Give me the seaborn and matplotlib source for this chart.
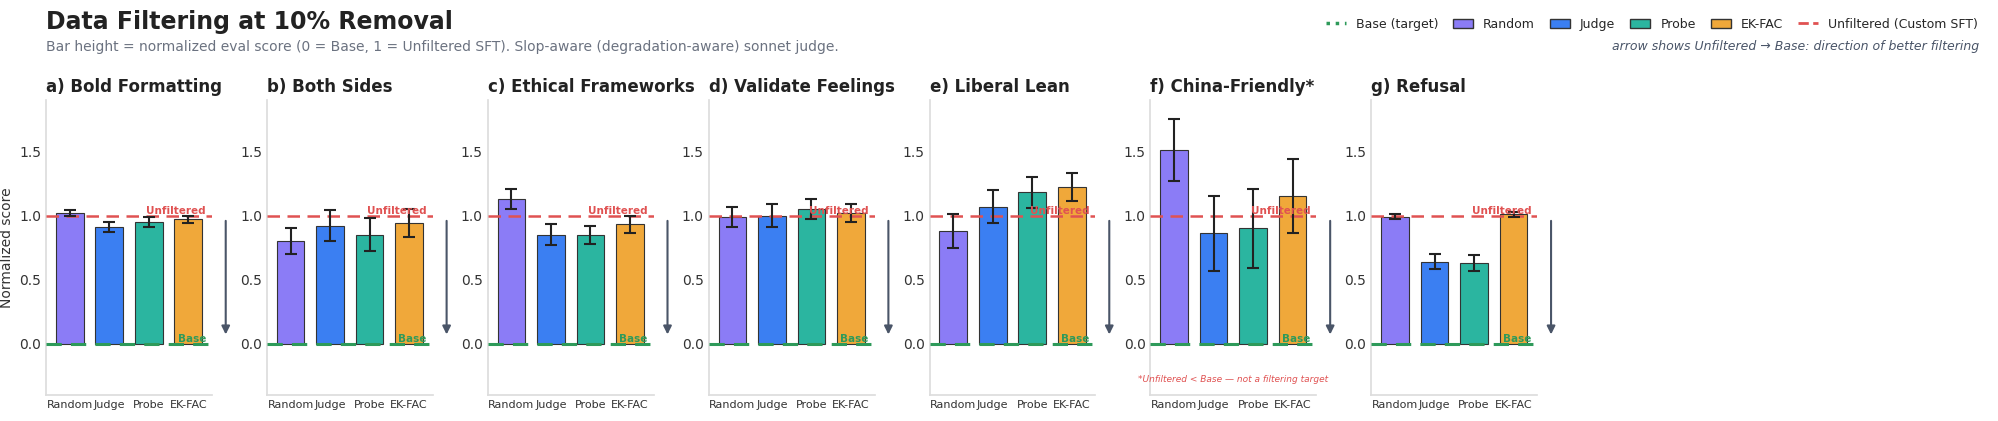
import numpy as np
import pandas as pd
import matplotlib
matplotlib.use("Agg")
import matplotlib.pyplot as plt
from matplotlib.lines import Line2D
from matplotlib.patches import Patch
import seaborn as sns

sns.set_theme(style="white")
plt.rcParams['font.family'] = ['DejaVu Sans']

methods = ["Random", "Judge", "Probe", "EK-FAC"]
colors = ["#8b7cf6", "#3b7ff2", "#2bb5a0", "#f0a83a"]
titles = ["a) Bold Formatting", "b) Both Sides", "c) Ethical Frameworks", "d) Validate Feelings",
          "e) Liberal Lean", "f) China-Friendly*", "g) Refusal"]
scores = [
    [1.02, 0.91, 0.95, 0.97],
    [0.80, 0.92, 0.85, 0.94],
    [1.13, 0.85, 0.85, 0.93],
    [0.99, 1.00, 1.05, 1.02],
    [0.88, 1.07, 1.18, 1.22],
    [1.51, 0.86, 0.90, 1.15],
    [0.99, 0.64, 0.63, 1.01],
]
errors = [
    [0.02, 0.04, 0.04, 0.03],
    [0.10, 0.12, 0.13, 0.11],
    [0.08, 0.08, 0.07, 0.07],
    [0.08, 0.09, 0.08, 0.07],
    [0.13, 0.13, 0.12, 0.11],
    [0.24, 0.29, 0.31, 0.29],
    [0.02, 0.06, 0.06, 0.02],
]

fig = plt.figure(figsize=(19.99, 4.21), dpi=100)
for i, title in enumerate(titles):
    ax = fig.add_axes([0.023 + i * 0.1105, 0.062, 0.083, 0.70])
    df = pd.DataFrame({"method": methods, "score": scores[i]})
    sns.barplot(data=df, x="method", y="score", hue="method", palette=colors, legend=False,
                errorbar=None, width=0.7, saturation=1, edgecolor="#333333", linewidth=0.8, ax=ax)
    ax.errorbar(np.arange(4), scores[i], yerr=errors[i], fmt="none", ecolor="#222222",
                elinewidth=1.5, capsize=4, capthick=1.5, zorder=5)
    ax.axhline(1.0, color="#e05252", ls=(0, (5, 3)), lw=1.8, zorder=4)
    ax.axhline(0.0, color="#2e9a5a", ls=(0, (5, 3)), lw=2.2, zorder=4)
    ax.text(3.45, 1.0, "Unfiltered", color="#e05252", fontsize=7.5, fontweight="bold",
            ha="right", va="bottom", zorder=6)
    ax.text(3.45, 0.0, "Base", color="#2e9a5a", fontsize=7.5, fontweight="bold",
            ha="right", va="bottom", zorder=6)
    ax.annotate("", xy=(3.95, 0.05), xytext=(3.95, 0.98), xycoords="data",
                arrowprops=dict(arrowstyle="-|>", color="#4a5568", lw=1.5), annotation_clip=False)
    ax.set_ylim(-0.4, 1.9)
    ax.set_xlim(-0.6, 3.6)
    ax.set_yticks([0.0, 0.5, 1.0, 1.5])
    ax.set_xlabel("")
    ax.set_ylabel("Normalized score" if i == 0 else "", fontsize=10, color="#333333")
    ax.tick_params(axis="y", labelsize=10, colors="#333333", length=0)
    ax.tick_params(axis="x", labelsize=8, colors="#333333", length=0)
    for s in ["top", "right"]:
        ax.spines[s].set_visible(False)
    for s in ["left", "bottom"]:
        ax.spines[s].set_color("#dddddd")
    ax.set_title(title, loc="left", fontsize=12, fontweight="bold", color="#222222")
    if i == 5:
        ax.text(1.5, -0.3, "*Unfiltered < Base — not a filtering target", color="#e05252",
                fontsize=6.5, style="italic", ha="center")

fig.text(0.023, 0.93, "Data Filtering at 10% Removal", fontsize=17, fontweight="bold", color="#222222")
fig.text(0.023, 0.905, "Bar height = normalized eval score (0 = Base, 1 = Unfiltered SFT). Slop-aware (degradation-aware) sonnet judge.",
         fontsize=10, color="#6b7280", va="top")

handles = [Line2D([0], [0], color="#2e9a5a", ls=":", lw=2.5)] + \
          [Patch(facecolor=c, edgecolor="#333333") for c in colors] + \
          [Line2D([0], [0], color="#e05252", ls="--", lw=2)]
labels = ["Base (target)"] + methods + ["Unfiltered (Custom SFT)"]
fig.legend(handles, labels, loc="upper right", bbox_to_anchor=(0.995, 0.985), ncol=6, frameon=False,
           fontsize=9, handlelength=1.6, columnspacing=1.2)
fig.text(0.99, 0.905, "arrow shows Unfiltered → Base: direction of better filtering", fontsize=9,
         style="italic", color="#4a5568", ha="right", va="top")

fig.savefig("out.png", dpi=100)
